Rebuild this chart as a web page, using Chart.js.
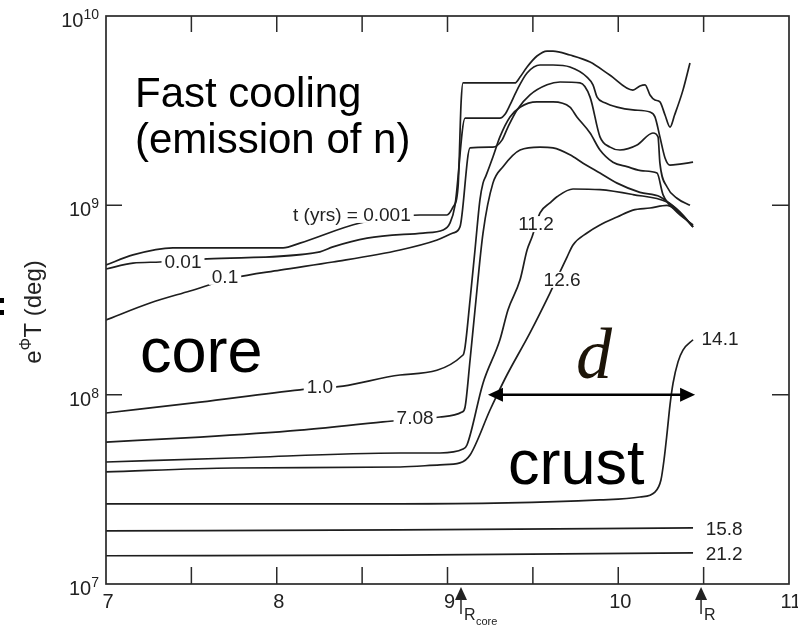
<!DOCTYPE html>
<html>
<head>
<meta charset="utf-8">
<title>Cooling wave</title>
<script src="https://cdn.jsdelivr.net/npm/chart.js@4.4.0/dist/chart.umd.min.js"></script>
<style>
  html, body { margin: 0; padding: 0; background: #fff; }
  #wrap { width: 798px; height: 628px; position: relative; }
</style>
</head>
<body>
<div id="wrap"><canvas id="coolingChart" width="798" height="628"></canvas></div>
<script>
// radius r (x) and redshifted temperature e^phi T in deg (y), one pair per time t (yrs)
const r_t0001 = [7.0, 7.158, 7.392, 8.037, 8.136, 8.488, 8.839, 8.997, 9.032, 9.062, 9.08, 9.091, 9.395, 9.425, 9.466, 9.524, 9.583, 9.618, 9.717, 9.835, 9.95, 10.086, 10.127, 10.157, 10.186, 10.215, 10.244, 10.274, 10.303, 10.33, 10.379, 10.42];
const T_t0001 = [4.84e8, 5.47e8, 5.96e8, 5.96e8, 6.32e8, 8.07e8, 8.89e8, 8.89e8, 9.77e8, 1.26e9, 3.55e9, 4.43e9, 4.43e9, 4.76e9, 5.38e9, 6.15e9, 6.53e9, 6.53e9, 6.22e9, 5.71e9, 4.88e9, 4.06e9, 4.27e9, 4.33e9, 3.83e9, 3.6e9, 3.52e9, 3.0e9, 2.59e9, 3.0e9, 4.06e9, 5.65e9];

const r_t001 = [7.0, 7.158, 7.316, 7.592, 8.253, 8.329, 8.529, 8.857, 8.974, 9.015, 9.044, 9.103, 9.307, 9.337, 9.366, 9.407, 9.466, 9.542, 9.618, 9.717, 9.817, 9.852, 9.876, 9.922, 9.993, 10.086, 10.186, 10.215, 10.244, 10.274, 10.303, 10.361, 10.438];
const T_t001 = [4.61e8, 4.95e8, 5.02e8, 5.21e8, 5.68e8, 6.03e8, 6.71e8, 7.14e8, 7.41e8, 8.07e8, 1.0e9, 2.89e9, 2.89e9, 3.03e9, 3.39e9, 4.06e9, 5.0e9, 5.51e9, 5.51e9, 5.38e9, 4.76e9, 4.33e9, 3.73e9, 3.48e9, 3.3e9, 3.19e9, 3.11e9, 2.93e9, 2.3e9, 1.78e9, 1.63e9, 1.65e9, 1.69e9];

const r_t01 = [7.0, 7.258, 7.492, 7.744, 8.019, 8.329, 8.722, 8.939, 9.032, 9.073, 9.132, 9.266, 9.319, 9.354, 9.407, 9.483, 9.583, 9.659, 9.776, 9.835, 9.893, 9.952, 10.01, 10.11, 10.203, 10.233, 10.244, 10.286, 10.344, 10.42];
const T_t01 = [2.48e8, 3.05e8, 3.53e8, 4.13e8, 4.55e8, 5.02e8, 5.81e8, 6.56e8, 7.14e8, 7.69e8, 2.01e9, 2.03e9, 2.21e9, 2.59e9, 3.19e9, 3.83e9, 4.33e9, 4.48e9, 4.43e9, 3.73e9, 2.3e9, 2.03e9, 1.96e9, 2.08e9, 2.41e9, 2.3e9, 1.67e9, 1.25e9, 1.09e9, 1.0e9];

const r_t1 = [7.0, 7.551, 8.136, 8.388, 8.722, 9.091, 9.103, 9.132, 9.161, 9.19, 9.208, 9.225, 9.266, 9.307, 9.366, 9.425, 9.524, 9.618, 9.717, 9.758, 9.835, 9.893, 9.969, 10.051, 10.145, 10.227, 10.262, 10.332, 10.438];
const T_t1 = [8.0e7, 9.14e7, 1.06e8, 1.11e8, 1.27e8, 1.62e8, 1.79e8, 3.16e8, 5.81e8, 1.07e9, 1.31e9, 1.43e9, 1.8e9, 2.3e9, 2.93e9, 3.3e9, 3.52e9, 3.52e9, 3.3e9, 2.93e9, 2.41e9, 1.96e9, 1.69e9, 1.6e9, 1.52e9, 1.48e9, 1.14e9, 9.44e8, 7.87e8];

const r_t708 = [7.0, 7.551, 8.136, 8.622, 8.956, 9.085, 9.103, 9.132, 9.161, 9.208, 9.266, 9.325, 9.425, 9.542, 9.618, 9.717, 9.794, 9.893, 9.993, 10.127, 10.244, 10.332, 10.438];
const T_t708 = [5.62e7, 5.97e7, 6.5e7, 7.18e7, 7.62e7, 8.09e7, 8.61e7, 1.52e8, 2.8e8, 7.14e8, 1.31e9, 1.6e9, 1.96e9, 2.03e9, 2.01e9, 1.85e9, 1.67e9, 1.48e9, 1.31e9, 1.17e9, 1.11e9, 9.68e8, 7.69e8];

const r_t112 = [7.0, 7.744, 8.722, 8.956, 9.091, 9.114, 9.208, 9.307, 9.354, 9.425, 9.466, 9.495, 9.542, 9.6, 9.641, 9.735, 9.893, 10.086, 10.286, 10.361, 10.438];
const T_t112 = [4.41e7, 4.63e7, 4.92e7, 4.92e7, 5.16e7, 5.42e7, 1.15e8, 1.95e8, 2.8e8, 4.04e8, 5.81e8, 6.81e8, 9.12e8, 1.03e9, 1.11e9, 1.22e9, 1.21e9, 1.14e9, 1.04e9, 9.23e8, 7.69e8];

const r_t126 = [7.0, 7.744, 8.722, 8.956, 9.073, 9.132, 9.249, 9.29, 9.348, 9.483, 9.6, 9.7, 9.735, 9.817, 9.893, 9.993, 10.086, 10.186, 10.286, 10.361, 10.438];
const T_t126 = [3.91e7, 4.1e7, 4.15e7, 4.26e7, 4.36e7, 4.8e7, 8.3e7, 9.95e7, 1.27e8, 2.12e8, 3.44e8, 5.33e8, 6.18e8, 7.14e8, 7.87e8, 8.67e8, 9.44e8, 9.68e8, 1.0e9, 9.12e8, 7.69e8];

const r_t141 = [7.0, 8.722, 9.893, 10.127, 10.215, 10.25, 10.268, 10.286, 10.303, 10.321, 10.35, 10.379, 10.438];
const T_t141 = [2.65e7, 2.65e7, 2.78e7, 2.88e7, 3.06e7, 3.54e7, 4.52e7, 6.28e7, 8.81e7, 1.15e8, 1.49e8, 1.72e8, 1.95e8];

const r_t158 = [7.0, 8.722, 10.438];
const T_t158 = [1.91e7, 1.93e7, 1.98e7];

const r_t212 = [7.0, 8.722, 10.438];
const T_t212 = [1.41e7, 1.42e7, 1.46e7];

// tick labels
const xTickLabels = [7, 8, 9, 10, 11];
const xTickMarks = [7.5, 8, 8.5, 9, 9.5, 10, 10.5];
const yTickExps = [7, 8, 9, 10];
const yTickMarks = [1e8, 1e9];

// curve labels (text and where it sits on the curve)
const labelText = ['t (yrs) = 0.001', '0.01', '0.1', '1.0', '7.08', '11.2', '12.6', '14.1', '15.8', '21.2'];
const labelR = [8.44, 7.451, 7.697, 8.253, 8.81, 9.518, 9.671, 10.596, 10.62, 10.62];
const labelT = [8.9e8, 5.02e8, 4.19e8, 1.1e8, 7.53e7, 7.96e8, 4.04e8, 1.97e8, 1.95e7, 1.44e7];

const rCore = 9.079, rSurface = 10.485;

function pts(rs, ts) {
    return rs.map((r, i) => ({ x: r, y: ts[i] }));
}

const series = [
    [r_t0001, T_t0001], [r_t001, T_t001], [r_t01, T_t01], [r_t1, T_t1], [r_t708, T_t708],
    [r_t112, T_t112], [r_t126, T_t126], [r_t141, T_t141], [r_t158, T_t158], [r_t212, T_t212]
];

const datasets = series.map(s => ({
    data: pts(s[0], s[1]),
    showLine: true,
    borderColor: '#1e1e1e',
    borderWidth: 1.7,
    pointRadius: 0,
    cubicInterpolationMode: 'monotone',
    fill: false
}));

const SANS = '"Liberation Sans", Arial, Helvetica, sans-serif';

// everything that is not a curve: frame, inward ticks, labels, annotations
const decor = {
    id: 'decor',
    afterDatasetsDraw(chart) {
        const ctx = chart.ctx;
        const a = chart.chartArea;
        const x = chart.scales.x, y = chart.scales.y;
        ctx.save();

        // curve labels, white box breaks the line under them
        ctx.font = '19px ' + SANS;
        ctx.textAlign = 'center';
        ctx.textBaseline = 'middle';
        labelText.forEach((txt, i) => {
            const px = x.getPixelForValue(labelR[i]);
            const py = y.getPixelForValue(labelT[i]);
            const w = ctx.measureText(txt).width;
            ctx.fillStyle = '#fff';
            ctx.fillRect(px - w / 2 - 3, py - 8, w + 6, 16);
            ctx.fillStyle = '#222';
            ctx.fillText(txt, px, py + 1);
        });

        // frame
        ctx.strokeStyle = '#2a2a2a';
        ctx.lineWidth = 1.7;
        ctx.strokeRect(a.left, a.top, a.right - a.left, a.bottom - a.top);

        // inward ticks
        ctx.lineWidth = 1.5;
        ctx.beginPath();
        xTickMarks.forEach(v => {
            const px = x.getPixelForValue(v);
            ctx.moveTo(px, a.bottom); ctx.lineTo(px, a.bottom - 17);
            ctx.moveTo(px, a.top); ctx.lineTo(px, a.top + 16);
        });
        yTickMarks.forEach(v => {
            const py = y.getPixelForValue(v);
            ctx.moveTo(a.left, py); ctx.lineTo(a.left + 16, py);
            ctx.moveTo(a.right, py); ctx.lineTo(a.right - 17, py);
        });
        ctx.stroke();

        // x tick labels
        ctx.fillStyle = '#222';
        ctx.font = '20px ' + SANS;
        ctx.textAlign = 'center';
        ctx.textBaseline = 'alphabetic';
        xTickLabels.forEach(v => {
            ctx.fillText(String(v), x.getPixelForValue(v) + 2, a.bottom + 24);
        });

        // y tick labels 10^n
        yTickExps.forEach(e => {
            const py = y.getPixelForValue(Math.pow(10, e));
            ctx.font = '14px ' + SANS;
            const ws = ctx.measureText(String(e)).width;
            const right = a.left - 7;
            ctx.textAlign = 'right';
            ctx.fillText(String(e), right, py + 3);
            ctx.font = '20px ' + SANS;
            ctx.fillText('10', right - ws, py + 11);
        });

        // R_core and R markers under the axis
        [rCore, rSurface].forEach((rv, i) => {
            const cx = x.getPixelForValue(rv);
            const top = a.bottom + 3;
            ctx.beginPath();
            ctx.moveTo(cx, top);
            ctx.lineTo(cx - 6, top + 13);
            ctx.lineTo(cx + 6, top + 13);
            ctx.closePath();
            ctx.fill();
            ctx.beginPath();
            ctx.moveTo(cx, top + 12); ctx.lineTo(cx, top + 27);
            ctx.stroke();
            ctx.textAlign = 'left';
            ctx.font = '16px ' + SANS;
            ctx.fillText('R', cx + 3, a.bottom + 36);
            if (i === 0) {
                ctx.font = '11px ' + SANS;
                ctx.fillText('core', cx + 15, a.bottom + 41);
            }
        });

        // y axis title e^Phi T (deg)
        ctx.save();
        ctx.translate(41, 312);
        ctx.rotate(-Math.PI / 2);
        ctx.textAlign = 'left';
        ctx.font = '24px ' + SANS;
        const wE = ctx.measureText('e').width;
        const wRest = ctx.measureText('T (deg)').width;
        ctx.font = '16px ' + SANS;
        const wPhi = ctx.measureText('\u03A6').width;
        const x0 = -(wE + wPhi + wRest) / 2;
        ctx.font = '24px ' + SANS;
        ctx.fillText('e', x0, 0);
        ctx.font = '16px ' + SANS;
        ctx.fillText('\u03A6', x0 + wE, -10);
        ctx.font = '24px ' + SANS;
        ctx.fillText('T (deg)', x0 + wE + wPhi, 0);
        ctx.restore();

        // stray colon at the left edge
        ctx.fillStyle = '#000';
        ctx.fillRect(0, 298, 4, 5);
        ctx.fillRect(0, 310, 4, 5);

        // annotations
        ctx.fillStyle = '#000';
        ctx.textAlign = 'left';
        ctx.font = '42px ' + SANS;
        ctx.fillText('Fast cooling', 135, 107);
        ctx.fillText('(emission of n)', 135, 153);
        ctx.font = '63px ' + SANS;
        ctx.fillText('core', 140, 372);
        ctx.fillText('crust', 508, 484);
        ctx.fillStyle = '#1c1408';
        ctx.font = 'italic 72px "Liberation Serif", "Times New Roman", serif';
        ctx.fillText('d', 576, 378);

        // double arrow for d
        const ay = y.getPixelForValue(1e8);
        const ax1 = x.getPixelForValue(9.237), ax2 = x.getPixelForValue(10.45);
        ctx.strokeStyle = '#000';
        ctx.fillStyle = '#000';
        ctx.lineWidth = 2.5;
        ctx.beginPath();
        ctx.moveTo(ax1 + 10, ay); ctx.lineTo(ax2 - 10, ay);
        ctx.stroke();
        ctx.beginPath();
        ctx.moveTo(ax1, ay); ctx.lineTo(ax1 + 15, ay - 7); ctx.lineTo(ax1 + 15, ay + 7); ctx.closePath();
        ctx.moveTo(ax2, ay); ctx.lineTo(ax2 - 15, ay - 7); ctx.lineTo(ax2 - 15, ay + 7); ctx.closePath();
        ctx.fill();

        ctx.restore();
    }
};

const ctx = document.getElementById('coolingChart').getContext('2d');
const coolingChart = new Chart(ctx, {
    type: 'scatter',
    data: { datasets: datasets },
    options: {
        responsive: false,
        animation: false,
        layout: { padding: { left: 106, right: 9, top: 16, bottom: 44 } },
        plugins: {
            legend: { display: false },
            tooltip: { enabled: false }
        },
        scales: {
            x: { type: 'linear', min: 7, max: 11, display: false },
            y: { type: 'logarithmic', min: 1e7, max: 1e10, display: false }
        }
    },
    plugins: [decor]
});
</script>
</body>
</html>
